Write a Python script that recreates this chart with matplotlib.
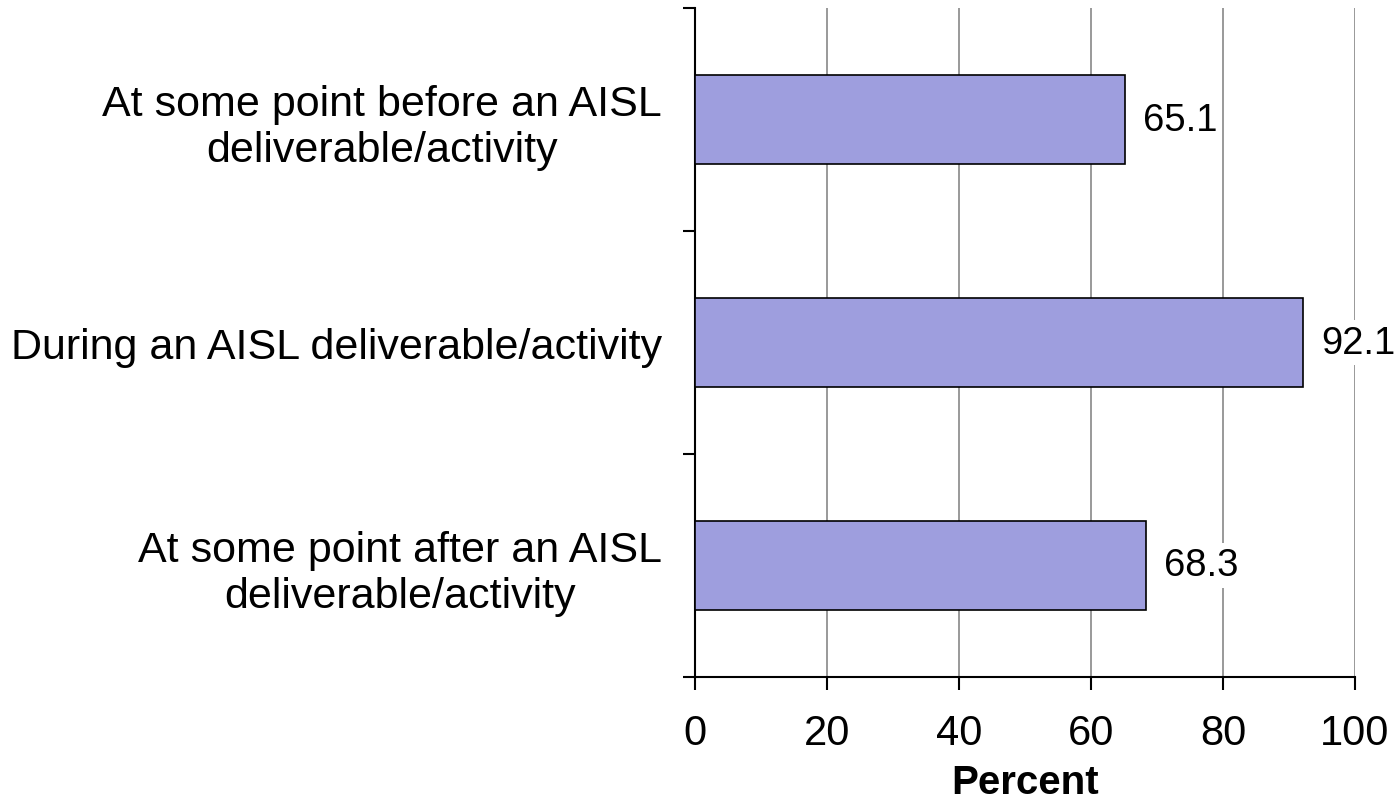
import matplotlib
matplotlib.use("Agg")
import matplotlib.pyplot as plt
from matplotlib.ticker import FixedLocator

plt.rcParams['font.family'] = ['Liberation Sans', 'DejaVu Sans']

categories = [
    "At some point before an AISL\ndeliverable/activity",
    "During an AISL deliverable/activity",
    "At some point after an AISL\ndeliverable/activity",
]
values = [65.1, 92.1, 68.3]
xticks = [0, 20, 40, 60, 80, 100]
xlabel = "Percent"

fig = plt.figure(figsize=(13.98, 8.04), dpi=100)
ax = fig.add_axes([695/1398, 1-678/804, 660/1398, 669/804])

n = len(categories)
ypos = [n - 1 - i for i in range(n)]
ax.barh(ypos, values, height=0.4, color="#9e9ede", edgecolor="black", linewidth=1.2, zorder=3)

for y, v in zip(ypos, values):
    ax.text(v + 2.8, y, f"{v:.1f}", va="center", ha="left", fontsize=27.5,
            bbox=dict(facecolor="white", edgecolor="none", pad=3), zorder=4)

ax.set_xlim(0, 100)
ax.set_ylim(-0.5, n - 0.5)
ax.set_xticks(xticks)
ax.set_xticklabels([str(t) for t in xticks], fontsize=30)
ax.set_yticks(ypos)
ax.set_yticklabels(categories, fontsize=31, multialignment="center")
ax.yaxis.set_minor_locator(FixedLocator([-0.5, 0.5, 1.5, 2.5]))
ax.tick_params(axis="y", which="major", length=0, pad=24)
ax.tick_params(axis="y", which="minor", length=8.6, width=1.5, direction="out")
ax.tick_params(axis="x", which="major", length=9.4, width=1.5, direction="out", pad=16.5)

ax.grid(axis="x", color="#888888", linewidth=1.2, zorder=0)
ax.set_axisbelow(True)
for s in ["top", "right"]:
    ax.spines[s].set_visible(False)
for s in ["left", "bottom"]:
    ax.spines[s].set_linewidth(1.5)

fig.text(ax.get_position().x0 + ax.get_position().width / 2, 1 - 794/804, xlabel,
         fontsize=29, fontweight="bold", ha="center", va="baseline")

fig.savefig("out.png", dpi=100)
